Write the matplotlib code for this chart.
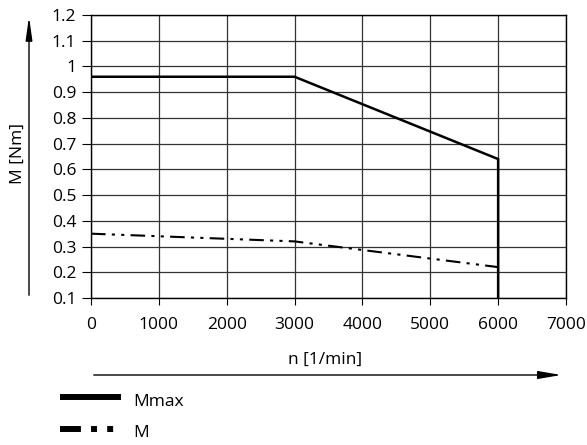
from matplotlib import pyplot as plt
from matplotlib.lines import Line2D
from matplotlib.patches import FancyArrowPatch

plt.rcParams['font.family'] = ['Open Sans', 'DejaVu Sans']

# speed values and torque curves
n_mmax = [0, 3000, 6000, 6000]
m_max = [0.96, 0.96, 0.64, 0.1]
n_m = [0, 3000, 6000]
m_cont = [0.35, 0.32, 0.22]

x_ticks = [0, 1000, 2000, 3000, 4000, 5000, 6000, 7000]
y_ticks = [0.1, 0.2, 0.3, 0.4, 0.5, 0.6, 0.7, 0.8, 0.9, 1, 1.1, 1.2]
y_labels = ['0.1', '0.2', '0.3', '0.4', '0.5', '0.6', '0.7', '0.8', '0.9', '1', '1.1', '1.2']

W, H = 587, 445
FS = 12.5
fig = plt.figure(figsize=(W / 100, H / 100), dpi=100)
ax = fig.add_axes([91 / W, 1 - 298 / H, (566 - 91) / W, (298 - 15) / H])

dash_dot_dot = (0, (7, 3, 1.5, 3, 1.5, 3))
ax.plot(n_mmax, m_max, color='black', lw=1.8, solid_joinstyle='miter')
ax.plot(n_m, m_cont, color='black', lw=1.5, linestyle=dash_dot_dot)

ax.set_xlim(0, 7000)
ax.set_ylim(0.1, 1.2)
ax.set_xticks(x_ticks)
ax.set_yticks(y_ticks)
ax.set_yticklabels(y_labels)
ax.grid(True, color='#333333', lw=0.9)
ax.set_axisbelow(True)
for s in ax.spines.values():
    s.set_color('black')
    s.set_linewidth(1.0)
ax.tick_params(axis='x', direction='out', length=5, width=0.8, labelsize=FS, pad=9)
ax.tick_params(axis='y', direction='out', length=6.5, width=0.8, labelsize=FS, pad=4)

# axis arrows and labels in figure pixels
def px(x, y):
    return (x / W, 1 - y / H)

fig.add_artist(FancyArrowPatch(
    px(29, 298), px(29, 14), transform=fig.transFigure,
    arrowstyle='-|>,head_length=14,head_width=2', color='black', lw=1))
fig.text(*px(18, 153), 'M [Nm]', rotation=90, ha='center', va='center', fontsize=FS)

fig.add_artist(FancyArrowPatch(
    px(91, 375), px(564, 375), transform=fig.transFigure,
    arrowstyle='-|>,head_length=14,head_width=2.4', color='black', lw=1))
fig.text(*px(325, 360), 'n [1/min]', ha='center', va='center', fontsize=FS)

# legend
fig.add_artist(Line2D([60 / W, 121 / W], [1 - 397 / H, 1 - 397 / H], color='black', lw=4.3,
                      solid_capstyle='butt', transform=fig.transFigure))
fig.add_artist(Line2D([60 / W, 121 / W], [1 - 429 / H, 1 - 429 / H], color='black', lw=4.3,
                      linestyle=(0, (3.5, 1.7, 1, 1.7, 1, 1.7)), dash_capstyle='butt',
                      transform=fig.transFigure))
fig.text(*px(133, 402), 'Mmax', ha='left', va='center', fontsize=FS)
fig.text(*px(133, 433), 'M', ha='left', va='center', fontsize=FS)

fig.savefig('out.png', dpi=100)
